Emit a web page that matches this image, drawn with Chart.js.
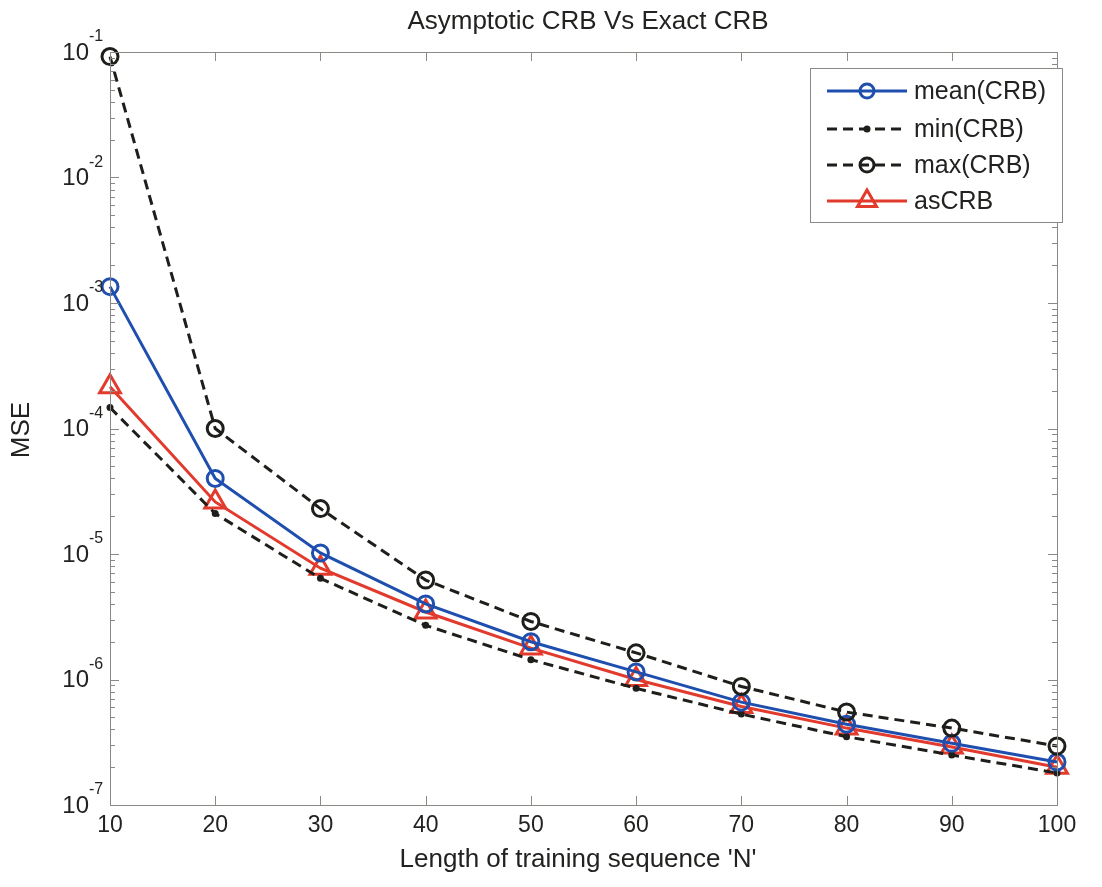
<!DOCTYPE html>
<html>
<head>
<meta charset="utf-8">
<script src="https://cdn.jsdelivr.net/npm/chart.js@4/dist/chart.umd.min.js"></script>
<style>
  html, body { margin: 0; padding: 0; background: #fff; }
  #wrap { width: 1102px; height: 887px; position: relative; }
</style>
</head>
<body>
<div id="wrap"><canvas id="chartCRB"></canvas></div>
<script>
// datos
const longitudN = [10, 20, 30, 40, 50, 60, 70, 80, 90, 100];
const meanCRB = [1.35e-3, 4.0e-5, 1.02e-5, 4.0e-6, 2.0e-6, 1.15e-6, 6.6e-7, 4.4e-7, 3.1e-7, 2.2e-7];
const minCRB  = [1.47e-4, 2.1e-5, 6.4e-6, 2.7e-6, 1.44e-6, 8.5e-7, 5.3e-7, 3.5e-7, 2.5e-7, 1.8e-7];
const maxCRB  = [9.2e-2, 1.0e-4, 2.3e-5, 6.2e-6, 2.9e-6, 1.63e-6, 8.8e-7, 5.5e-7, 4.1e-7, 2.95e-7];
const asCRB   = [2.15e-4, 2.6e-5, 7.7e-6, 3.45e-6, 1.78e-6, 1.0e-6, 6.1e-7, 4.1e-7, 2.9e-7, 2.0e-7];

const xTicks = [10, 20, 30, 40, 50, 60, 70, 80, 90, 100];
const yExponentes = [-1, -2, -3, -4, -5, -6, -7];

const titulo = "Asymptotic CRB Vs Exact CRB";
const etiquetaX = "Length of training sequence 'N'";
const etiquetaY = "MSE";

const AZUL = "#1f4fae";
const ROJO = "#e23a2c";
const NEGRO = "#1e1e1a";
const TEXTO = "#222220";
const FUENTE = "'Liberation Sans', Arial, sans-serif";

function puntos(vals) {
    return longitudN.map((n, i) => ({ x: n, y: vals[i] }));
}

// ejes estilo matlab, etiquetas, titulo y leyenda
const ejesPlugin = {
    id: 'ejesMatlab',
    afterDatasetsDraw(chart) {
        const { ctx: c, chartArea: a, scales: { x, y } } = chart;
        c.save();

        // caja
        c.strokeStyle = "#8a8a84";
        c.lineWidth = 1;
        c.strokeRect(a.left + 0.5, a.top + 0.5, a.right - a.left, a.bottom - a.top);

        // ticks x arriba y abajo
        c.beginPath();
        xTicks.forEach(v => {
            const px = Math.round(x.getPixelForValue(v)) + 0.5;
            c.moveTo(px, a.bottom); c.lineTo(px, a.bottom - 9);
            c.moveTo(px, a.top); c.lineTo(px, a.top + 9);
        });
        // ticks y (mayores y menores) a los dos lados
        yExponentes.forEach(e => {
            for (let m = 1; m <= 9; m++) {
                const v = m * Math.pow(10, e);
                if (v > 0.1 + 1e-12) continue;
                const py = Math.round(y.getPixelForValue(v)) + 0.5;
                const len = m === 1 ? 9 : 5;
                c.moveTo(a.left, py); c.lineTo(a.left + len, py);
                c.moveTo(a.right, py); c.lineTo(a.right - len, py);
            }
        });
        c.stroke();

        // etiquetas x
        c.fillStyle = TEXTO;
        c.font = `23px ${FUENTE}`;
        c.textAlign = 'center';
        c.textBaseline = 'middle';
        xTicks.forEach(v => c.fillText(String(v), x.getPixelForValue(v), a.bottom + 21));

        // etiquetas y con exponente
        yExponentes.forEach(e => {
            const py = y.getPixelForValue(Math.pow(10, e));
            c.font = `24px ${FUENTE}`;
            c.textAlign = 'right';
            c.textBaseline = 'middle';
            c.fillText("10", a.left - 21, py + 1);
            c.font = `16px ${FUENTE}`;
            c.textAlign = 'left';
            c.fillText(String(e), a.left - 21, py - 15);
        });

        // titulo y nombres de ejes
        c.font = `26px ${FUENTE}`;
        c.textAlign = 'center';
        c.textBaseline = 'middle';
        c.fillText(titulo, 588, 22);
        c.fillText(etiquetaX, 578, a.bottom + 55);
        c.save();
        c.translate(22, 430);
        c.rotate(-Math.PI / 2);
        c.fillText(etiquetaY, 0, 0);
        c.restore();

        // leyenda
        const lx = 810, ly = 68, lw = 252, lh = 154;
        c.fillStyle = "#fff";
        c.fillRect(lx, ly, lw, lh);
        c.strokeStyle = "#8a8a84";
        c.lineWidth = 1;
        c.strokeRect(lx + 0.5, ly + 0.5, lw, lh);
        const filas = [
            { t: "mean(CRB)", col: AZUL, dash: [], est: 'circle', r: 7 },
            { t: "min(CRB)", col: NEGRO, dash: [10, 6], est: 'dot', r: 3.5 },
            { t: "max(CRB)", col: NEGRO, dash: [10, 6], est: 'circle', r: 7 },
            { t: "asCRB", col: ROJO, dash: [], est: 'triangle', r: 11 }
        ];
        const filasY = [91, 129, 165, 201];
        filas.forEach((f, i) => {
            const fy = filasY[i];
            c.strokeStyle = f.col;
            c.lineWidth = 3;
            c.setLineDash(f.dash);
            c.beginPath();
            c.moveTo(827, fy); c.lineTo(907, fy);
            c.stroke();
            c.setLineDash([]);
            if (f.est === 'dot') {
                c.fillStyle = f.col;
                c.beginPath(); c.arc(867, fy, f.r, 0, Math.PI * 2); c.fill();
            } else {
                c.fillStyle = 'rgba(0,0,0,0)';
                Chart.helpers.drawPoint(c, { pointStyle: f.est, radius: f.r, borderWidth: 3, rotation: 0 }, 867, fy);
            }
            c.fillStyle = TEXTO;
            c.font = `25px ${FUENTE}`;
            c.textAlign = 'left';
            c.textBaseline = 'middle';
            c.fillText(f.t, 914, fy + 1);
        });
        c.restore();
    }
};

const ctx = document.getElementById("chartCRB");
new Chart(ctx, {
    type: 'line',
    data: {
        datasets: [
            {
                label: 'max(CRB)', data: puntos(maxCRB),
                borderColor: NEGRO, borderWidth: 3, borderDash: [10, 6],
                pointStyle: 'circle', pointRadius: 8, pointBorderWidth: 3,
                pointBorderColor: NEGRO, pointBackgroundColor: 'rgba(0,0,0,0)', clip: false
            },
            {
                label: 'mean(CRB)', data: puntos(meanCRB),
                borderColor: AZUL, borderWidth: 3,
                pointStyle: 'circle', pointRadius: 8, pointBorderWidth: 3,
                pointBorderColor: AZUL, pointBackgroundColor: 'rgba(0,0,0,0)', clip: false
            },
            {
                label: 'min(CRB)', data: puntos(minCRB),
                borderColor: NEGRO, borderWidth: 3, borderDash: [10, 6],
                pointStyle: 'circle', pointRadius: 3.5, pointBorderWidth: 0,
                pointBackgroundColor: NEGRO, clip: false
            },
            {
                label: 'asCRB', data: puntos(asCRB),
                borderColor: ROJO, borderWidth: 3,
                pointStyle: 'triangle', pointRadius: 12, pointBorderWidth: 3,
                pointBorderColor: ROJO, pointBackgroundColor: 'rgba(0,0,0,0)', clip: false
            }
        ]
    },
    options: {
        responsive: true,
        maintainAspectRatio: false,
        animation: false,
        layout: { padding: { left: 102, right: 45, top: 52, bottom: 74 } },
        plugins: { legend: { display: false }, title: { display: false }, tooltip: { enabled: false } },
        elements: { line: { tension: 0 } },
        scales: {
            x: {
                type: 'linear', min: 10, max: 100,
                grid: { display: false }, border: { display: false },
                ticks: { display: false }
            },
            y: {
                type: 'logarithmic', min: 1e-7, max: 1e-1,
                grid: { display: false }, border: { display: false },
                ticks: { display: false }
            }
        }
    },
    plugins: [ejesPlugin]
});
</script>
</body>
</html>
